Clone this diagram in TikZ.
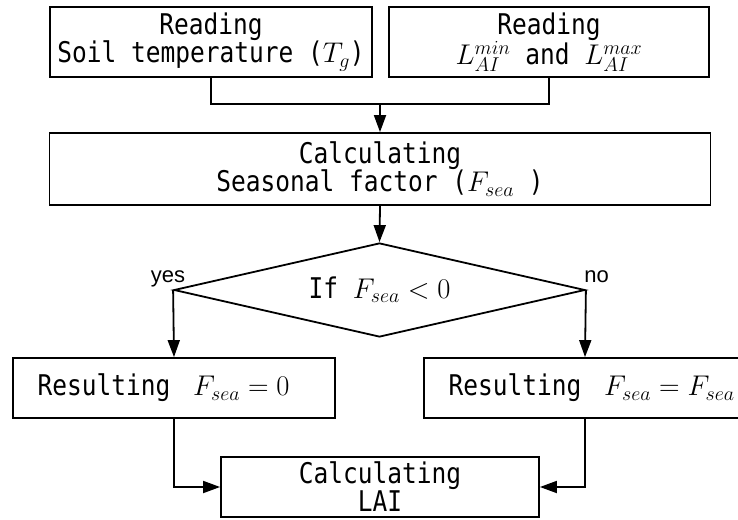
\RequirePackage{fix-cm}
\documentclass[tikz,border=0pt]{standalone}
\usepackage{fontspec}
\setmonofont[FakeStretch=0.86]{DejaVu Sans Mono}
\newfontfamily\labelfont{Liberation Sans}
\usetikzlibrary{shapes.geometric,arrows.meta}

\begin{document}
\begin{tikzpicture}[x=1pt,y=-1pt,
  line width=1.8pt,
  txt/.style={font=\ttfamily\fontsize{28.5}{28}\selectfont},
  box/.style={txt,draw,rectangle,inner sep=0pt,align=center},
  leftbox/.style={txt,draw,rectangle,inner xsep=24.5pt,inner ysep=0pt,
    text width=273pt,minimum height=60pt,align=left},
  decision/.style={txt,draw,diamond,aspect=4.37,inner sep=0pt,
    minimum width=411pt,minimum height=94pt},
  branch/.style={font=\labelfont\fontsize{22}{24}\selectfont,anchor=base,inner sep=0pt},
  arr/.style={-{Triangle[length=17pt,width=12pt]}}
]
\useasboundingbox (0,0) rectangle (738,519);

% input boxes
\node[box,minimum width=322pt,minimum height=70pt] (soil) at (211,42)
  {Reading\\Soil temperature ($T_g$)};
\node[box,minimum width=320pt,minimum height=70pt] (lai) at (549,42)
  {Reading\\$L_{AI}^{min}$ and $L_{AI}^{max}$};

% seasonal factor
\node[box,minimum width=661pt,minimum height=72pt] (fsea) at (380,169)
  {Calculating\\Seasonal factor ($F_{sea}$ )};

% test
\node[decision] (test) at (379.5,290) {If $F_{sea}<0$\hspace{10pt}};
\node[branch] (yes) at (168,282) {yes};
\node[branch] (no) at (596.5,282) {no};

% results (one line each, left aligned)
\node[leftbox] (zero) at (174,388) {\mbox{Resulting\hspace{0.8em}$F_{sea}=0$}};
\node[leftbox] (keep) at (585,388) {\mbox{Resulting\hspace{0.8em}$F_{sea}=F_{sea}$}};

% output
\node[box,minimum width=318pt,minimum height=60pt] (out) at (380,487)
  {Calculating\\LAI};

% connectors
\coordinate (join) at (380,104);
\draw (soil.south) |- (join) -| (lai.south);
\draw[arr] (join) -- (fsea.north);
\draw[arr] (fsea.south) -- (test.north);
\draw[arr] (test.west) -- (zero.north);
\draw[arr] (test.east) -- (keep.north);
\draw[arr] (zero.south) |- (out.west);
\draw[arr] (keep.south) |- (out.east);
\end{tikzpicture}
\end{document}
